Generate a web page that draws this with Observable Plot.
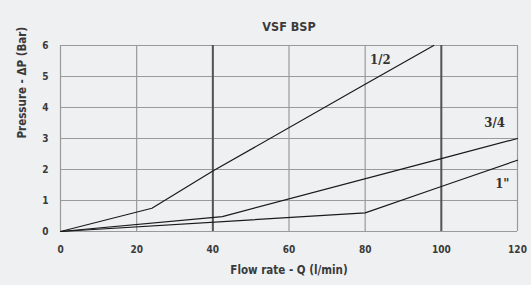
<!DOCTYPE html>
<html><head><meta charset="utf-8">
<script src="https://cdn.jsdelivr.net/npm/d3@7"></script>
<script src="https://cdn.jsdelivr.net/npm/@observablehq/plot@0.6"></script>
<style>
html,body{margin:0;padding:0;background:#eff0f2;}
#chart svg{display:block;}
#chart svg text{font-stretch:condensed;}
</style></head>
<body><div id="chart"></div>
<script>
const title = "VSF BSP";
const xLabel = "Flow rate - Q (l/min)";
const yLabel = "Pressure - ΔP (Bar)";
const xTicks = [0, 20, 40, 60, 80, 100, 120];
const yTicks = [0, 1, 2, 3, 4, 5, 6];
const strongX = [40, 100];

const seriesNames = ["1/2", "3/4", "1\""];
const half = [[0, 0], [24, 0.75], [40, 1.95], [80, 4.75], [98, 6]];
const threeQuarter = [[0, 0], [42.5, 0.48], [100, 2.35], [120, 3.0]];
const one = [[0, 0], [80, 0.6], [100, 1.45], [120, 2.3]];
const labelPos = [[84, 5.55], [114, 3.5], [116, 1.55]];

const rows = [];
[half, threeQuarter, one].forEach((s, i) => s.forEach(([q, p]) => rows.push({series: seriesNames[i], q, p})));
const labels = seriesNames.map((n, i) => ({name: n, q: labelPos[i][0], p: labelPos[i][1]}));

const font = "'DejaVu Sans Condensed','DejaVu Sans',sans-serif";
const chart = Plot.plot({
  width: 531, height: 285,
  marginTop: 45, marginLeft: 60, marginRight: 14, marginBottom: 54,
  style: {background: "#eff0f2", fontFamily: font, fontSize: "11px", color: "#3a3a3a", fontWeight: "bold"},
  x: {domain: [0, 120], ticks: xTicks, label: null},
  y: {domain: [0, 6], ticks: yTicks, label: null},
  marks: [
    Plot.ruleY(yTicks, {stroke: "#9a9a9a", strokeWidth: 1.2}),
    Plot.ruleX(xTicks, {stroke: "#9a9a9a", strokeWidth: 1.2}),
    Plot.ruleX(strongX, {stroke: "#555", strokeWidth: 2}),
    Plot.line(rows, {x: "q", y: "p", z: "series", stroke: "#1a1a1a", strokeWidth: 1.2}),
    Plot.text(labels, {x: "q", y: "p", text: "name", fontFamily: "'DejaVu Serif','Liberation Serif',serif", fontWeight: "bold", fontSize: 13, fill: "#333"}),
    Plot.axisX({ticks: xTicks, tickSize: 0, tickPadding: 14, fontSize: 10, tickFormat: "d"}),
    Plot.axisY({ticks: yTicks, tickSize: 0, tickPadding: 12, fontSize: 10, tickFormat: "d"}),
    Plot.text([xLabel], {frameAnchor: "bottom", dy: 42, fontSize: 11.5, fill: "#3a3a3a"}),
    Plot.text([yLabel], {frameAnchor: "left", dx: -38, rotate: -90, fontSize: 11.5, fill: "#3a3a3a"}),
    Plot.text([title], {frameAnchor: "top", dy: -23, fontSize: 12.5, fill: "#3a3a3a"})
  ]
});
document.getElementById("chart").append(chart);
</script></body></html>
